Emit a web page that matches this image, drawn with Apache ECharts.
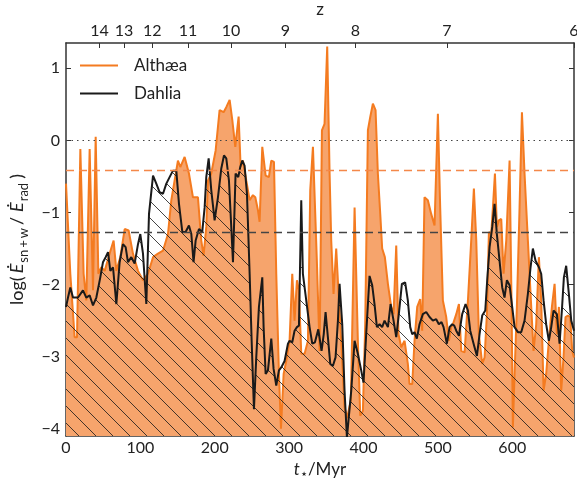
<!DOCTYPE html>
<html><head><meta charset="utf-8">
<script src="https://cdn.jsdelivr.net/npm/echarts@6/dist/echarts.min.js"></script>
<style>html,body{margin:0;padding:0;background:#fff}#c{width:577px;height:479px}</style>
</head><body><div id="c"></div>
<script>
// ---- data (t in Myr, value = log(Esn+w/Erad)) ----
const althaeaT = [0,5.8,11.6,14.8,19.3,23.7,27.3,31.8,36.3,39.9,43.5,47.5,52,58.7,64,67.7,73,78.9,84.2,90,96.8,103.5,110.2,117,123.7,130.4,137.1,141.6,146,150.5,153.7,159.5,165.3,170.7,177.4,181.9,185,188.6,190.9,195.3,201.2,206.5,211.9,215.5,220,223.6,227.6,232.1,234.8,237.9,242.4,246.9,251.3,254.5,258.1,260.3,263.9,268.4,272.8,276,279.6,282.7,286.3,289,292.6,296.1,300.6,304.2,307.3,310.5,313.2,316.3,320.8,325.3,328.4,332,337.4,341,344.1,347.6,351.2,354.4,356.6,359.7,363.3,366.5,370,374.5,378,383,388,392.4,395.6,399.2,402.3,405.9,409,412.6,416.2,419.3,422.5,425.1,428.7,432.8,437.2,440.4,444,447.1,450.7,455.2,459.6,461.9,465.5,468.6,472.2,476.2,478.9,482,486.5,491,495.5,500,503.1,506.7,511.2,514.8,517.9,520.2,524.7,528.3,531.4,535.9,540.4,544.8,548.4,551.6,555.1,559.6,562.8,565.9,568.6,571.7,574,576.7,579.3,582,585.2,588.3,591.9,596.4,599.1,600.8,603.1,606.2,609.8,613,616.5,621,625.5,628.6,632.2,635.8,638.9,642.1,645.6,649.2,653.3,656.9,660,662.7,665.8,668.9,671.6,674.8,677.9,680.6,683];
const althaeaV = [-0.60,-1.85,-2.73,-2.73,-0.12,-1.85,-2.22,-0.12,-2.08,0.05,-1.85,-1.76,-1.81,-1.57,-1.39,-1.81,-1.62,-1.23,-1.25,-1.57,-1.81,-1.94,-1.85,-1.62,-1.57,-1.53,-1.30,-0.83,-0.56,-0.28,-0.37,-0.23,-0.46,-0.79,-0.79,-1.39,-1.60,-1.20,-0.56,-0.46,-0.14,0.42,0.39,0.46,0.56,0.28,-0.09,0.33,-0.37,-0.28,-0.56,-0.83,-0.76,-0.79,-0.97,-1.13,-0.09,-0.49,-0.51,-0.28,-0.30,-1.85,-3.24,-4.0,-3.24,-3.06,-2.78,-1.85,-2.5,-1.94,-2.08,-2.96,-2.96,-2.78,-0.69,-0.09,-1.71,-2.92,0.14,0.23,1.30,-0.46,-1.39,-2.13,-1.50,-2.13,-2.78,-3.70,-3.85,-3.60,-0.93,-2.78,-3.82,-3.75,-2.55,0.14,0.32,0.51,0.42,-0.46,-1.02,-1.50,-1.62,-1.99,-2.31,-2.41,-1.46,-2.69,-2.87,-2.78,-3.10,-3.38,-3.38,-2.78,-2.31,-2.20,-2.64,-0.79,-0.83,-1.02,-1.18,0.37,-0.93,-2.22,-2.45,-2.78,-2.59,-2.55,-2.41,-2.27,-2.92,-2.94,-2.22,-1.39,-0.67,-1.39,-2.69,-3.10,-3.01,-2.41,-1.27,-1.30,-0.93,-0.46,-1.20,-1.11,-1.09,-1.85,-1.39,-0.28,-2.31,-3.98,-3.24,-2.31,-0.93,0.39,-0.46,-1.39,-2.31,-2.92,-2.55,-1.62,-2.22,-3.47,-3.24,-2.78,-2.31,-1.99,-2.69,-2.31,-3.47,-3.01,-2.45,-2.43,-2.45,-2.92,-3.01];
const dahliaT = [0,2.7,5.8,9.4,16.1,22.8,27.3,31.8,36.3,40.8,46.1,49.7,53.3,56.5,59.6,63.2,67.7,72.1,76.6,80.2,83.3,87.8,92.3,96.8,99.9,103.5,108,111.6,117,121.4,125.9,130.4,134.9,139.3,143.8,148.3,151.9,156.4,160.8,165.3,168.5,171.5,174.3,178.8,183.2,186.4,188.6,191.8,195.3,199.8,204.3,208.8,212.4,215.5,219.1,222.2,224.5,228,231.6,234.3,237,240.1,243.3,246.9,249.6,252.7,255.8,259.4,263.9,265.7,268.4,271.5,276,279.1,282.7,286.3,289.4,293.9,298.4,300.6,304.2,307.3,310.5,313.2,316.3,318.5,323,327.5,331.1,334.7,339.2,343.6,346.5,349,352.1,355.3,358.8,362.4,365.6,367.8,371.4,374.5,377.7,380.3,383.5,388,392.4,396.9,400,403.6,408.1,411.7,414.8,418,421.6,425.1,428.3,432.8,436.4,440.4,444,447.5,451.6,456,459.6,462.8,465.5,468.6,471.7,475.3,479.8,484.3,488.8,493.3,497.7,501.3,504.9,507.6,512.1,515.7,519.2,522,524.7,528.3,532.7,537.2,540.4,543.5,548,552.5,556,559.6,563.7,566.3,569.5,573.1,576.2,579.3,582.9,586.5,589.6,592.8,596.4,599.9,603.1,607.6,612,616.5,621,624.6,627.7,631.3,635.8,638.9,642.1,645.6,649.2,652.4,655.5,660,663.6,666.7,669.4,672.5,676.1,679.3,683];
const dahliaV = [-2.31,-2.18,-2.04,-2.18,-2.18,-2.08,-2.18,-2.15,-2.29,-2.18,-1.90,-1.69,-1.62,-1.55,-1.81,-1.76,-2.27,-1.69,-1.44,-1.48,-1.69,-1.62,-1.71,-1.44,-1.30,-1.57,-2.27,-1.02,-0.49,-0.60,-0.72,-0.74,-0.60,-0.51,-0.42,-0.42,-0.88,-1.27,-1.27,-1.18,-1.30,-1.69,-1.39,-1.23,-1.27,-0.93,-0.51,-0.25,-0.69,-1.11,-0.79,-0.39,-0.21,-0.25,-0.56,-1.20,-1.69,-0.46,-0.51,-0.37,-0.28,-0.35,-0.74,-1.85,-2.78,-3.73,-3.01,-2.31,-1.90,-2.59,-3.24,-3.19,-2.75,-3.17,-3.40,-3.19,-3.15,-3.06,-2.82,-2.78,-2.80,-2.64,-2.59,-2.57,-0.83,-1.85,-2.22,-2.59,-2.82,-2.80,-2.62,-2.92,-2.69,-2.38,-2.73,-3.10,-3.13,-3.01,-2.50,-1.99,-2.55,-3.47,-4.12,-4.12,-3.47,-2.78,-2.96,-3.19,-3.36,-2.69,-1.88,-2.01,-2.27,-2.59,-2.55,-2.59,-2.50,-2.59,-2.27,-2.50,-2.73,-2.41,-1.99,-1.97,-2.22,-2.59,-2.69,-2.66,-2.75,-2.55,-2.41,-2.38,-2.45,-2.50,-2.48,-2.55,-2.52,-2.59,-2.82,-2.59,-2.55,-2.57,-2.64,-2.71,-2.41,-2.27,-2.36,-2.64,-2.82,-2.99,-2.69,-2.43,-2.36,-1.94,-1.48,-1.20,-0.88,-1.30,-1.67,-2.04,-2.18,-1.94,-2.01,-2.31,-2.59,-2.66,-2.66,-2.50,-2.13,-1.76,-1.50,-1.67,-1.76,-1.85,-2.22,-2.55,-2.78,-2.59,-2.36,-2.41,-2.82,-2.36,-1.90,-1.74,-2.13,-2.50,-2.64];
const xTicks = [0,100,200,300,400,500,600];
const yTicks = [-4,-3,-2,-1,0,1];
const zTickT = [45,78,116,164,222,295,389,512,683];
const zTickLabels = ['14','13','12','11','10','9','8','7','6'];
const refLevels = [0, -0.41, -1.27]; // dotted zero, Althæa mean, Dahlia mean

const zip = (a,b) => a.map((t,i)=>[t,b[i]]);
const minus = v => (v < 0 ? '\u2212' + Math.abs(v) : String(v));

// hatch pattern for Dahlia
const S = 17;
const hatch = document.createElement('canvas');
hatch.width = S; hatch.height = S;
const hc = hatch.getContext('2d');
hc.strokeStyle = 'rgba(25,25,25,0.9)'; hc.lineWidth = 0.9;
[[-3,-3,S+3,S+3],[-3,S-3,3,S+3],[S-3,-3,S+3,3]].forEach(l=>{hc.beginPath();hc.moveTo(l[0],l[1]);hc.lineTo(l[2],l[3]);hc.stroke();});

const FONT = 'Lato';
const TXT = '#222';
const AX = '#333';
const big = (extra) => Object.assign({fontSize: 18, color: TXT, fontFamily: FONT, lineHeight: 26, verticalAlign: 'middle'}, extra || {});
const sub = (extra) => Object.assign({fontSize: 13, color: TXT, fontFamily: FONT, lineHeight: 13, verticalAlign: 'bottom'}, extra || {});
const chart = echarts.init(document.getElementById('c'), null, {renderer:'canvas'});
chart.setOption({
  animation: false,
  backgroundColor: '#fff',
  textStyle: {fontFamily: FONT},
  grid: {left: 66, right: 3, top: 43, bottom: 43, containLabel: false, outerBoundsMode: 'none'},
  legend: {
    left: 80, top: 57, orient: 'vertical', itemGap: 11, itemWidth: 38, itemHeight: 2, icon: 'rect', padding: 0,
    textStyle: {fontSize: 17, color: TXT, fontFamily: FONT, padding: [0,0,0,11]},
    data: [{name:'Althæa', itemStyle:{color:'#f47b20'}}, {name:'Dahlia', itemStyle:{color:'#1a1a1a'}}]
  },
  xAxis: [{
    type: 'value', position: 'bottom', min: 0, max: 683,
    axisLine: {show: true, onZero: false, lineStyle: {color: AX, width: 1.5}},
    axisTick: {show: true, inside: true, length: 5, customValues: xTicks, lineStyle: {color: AX}},
    axisLabel: {customValues: xTicks, margin: 4, fontSize: 16, color: TXT, fontFamily: FONT},
    splitLine: {show: false},
    name: '{i|t}{s|\u22C6}{n|/Myr}', nameLocation: 'middle', nameGap: 19,
    nameTextStyle: {rich: {
      i: {fontSize: 17, fontStyle: 'italic', color: TXT, fontFamily: FONT, lineHeight: 22, verticalAlign: 'middle'},
      s: {fontSize: 13, color: TXT, fontFamily: FONT, lineHeight: 13, verticalAlign: 'bottom'},
      n: {fontSize: 17, color: TXT, fontFamily: FONT, lineHeight: 22, verticalAlign: 'middle'}
    }}
  }, {
    type: 'value', position: 'top', min: 0, max: 683,
    axisLine: {show: true, onZero: false, lineStyle: {color: AX, width: 1.5}},
    axisTick: {show: true, inside: true, length: 5, customValues: zTickT, lineStyle: {color: AX}},
    axisLabel: {customValues: zTickT, margin: 4, fontSize: 16, color: TXT, fontFamily: FONT,
      formatter: v => { let k = 0; zTickT.forEach((t,i)=>{ if (Math.abs(t-v) < Math.abs(zTickT[k]-v)) k = i; }); return zTickLabels[k]; }},
    splitLine: {show: false},
    name: 'z', nameLocation: 'middle', nameGap: 22,
    nameTextStyle: {fontSize: 17, color: TXT, fontFamily: FONT}
  }],
  yAxis: [{
    type: 'value', position: 'left', min: -4.1, max: 1.35,
    axisLine: {show: true, onZero: false, lineStyle: {color: AX, width: 1.5}},
    axisTick: {show: true, inside: true, length: 5, customValues: yTicks, lineStyle: {color: AX}},
    axisLabel: {customValues: yTicks, margin: 6, fontSize: 16, color: TXT, fontFamily: FONT, formatter: minus},
    splitLine: {show: false},
    name: '{lg|log(}{e|\u0116}{s|sn}{p|+}{s|w}{sl|/}{e|\u0116}{s|rad}{cl|)}', nameLocation: 'middle', nameGap: 34, nameRotate: 90,
    nameTextStyle: {rich: {
      lg: big({padding: [0,1,0,0]}),
      e: big({fontStyle: 'italic', padding: [0,1,0,2]}),
      s: sub(),
      p: sub({padding: [0,2,0,2]}),
      sl: big({padding: [0,3,0,3]}),
      cl: big({padding: [0,0,0,4]})
    }}
  }, {
    type: 'value', position: 'right', min: -4.1, max: 1.35,
    axisLine: {show: true, onZero: false, lineStyle: {color: AX, width: 1.5}},
    axisTick: {show: true, inside: true, length: 5, customValues: yTicks, lineStyle: {color: AX}},
    axisLabel: {show: false},
    splitLine: {show: false}
  }],
  series: [{
    name: 'Althæa', type: 'line', data: zip(althaeaT, althaeaV), symbol: 'none', z: 2,
    lineStyle: {color: '#f47b20', width: 2}, itemStyle: {color: '#f47b20'},
    areaStyle: {color: '#f6a46c', opacity: 1, origin: 'start'}
  }, {
    name: 'Dahlia', type: 'line', data: zip(dahliaT, dahliaV), symbol: 'none', z: 3,
    lineStyle: {color: '#1a1a1a', width: 2}, itemStyle: {color: '#1a1a1a'},
    areaStyle: {color: {image: hatch, repeat: 'repeat'}, opacity: 1, origin: 'start'},
    markLine: {
      silent: true, symbol: ['none','none'], label: {show: false}, animation: false,
      data: [
        {yAxis: refLevels[0], lineStyle: {type: [1.5,4], color: '#444', width: 1.2}},
        {yAxis: refLevels[1], lineStyle: {type: [8,5], color: '#f4884a', width: 1.3}},
        {yAxis: refLevels[2], lineStyle: {type: [8,5], color: '#444', width: 1.3}}
      ]
    }
  }]
});
</script></body></html>
